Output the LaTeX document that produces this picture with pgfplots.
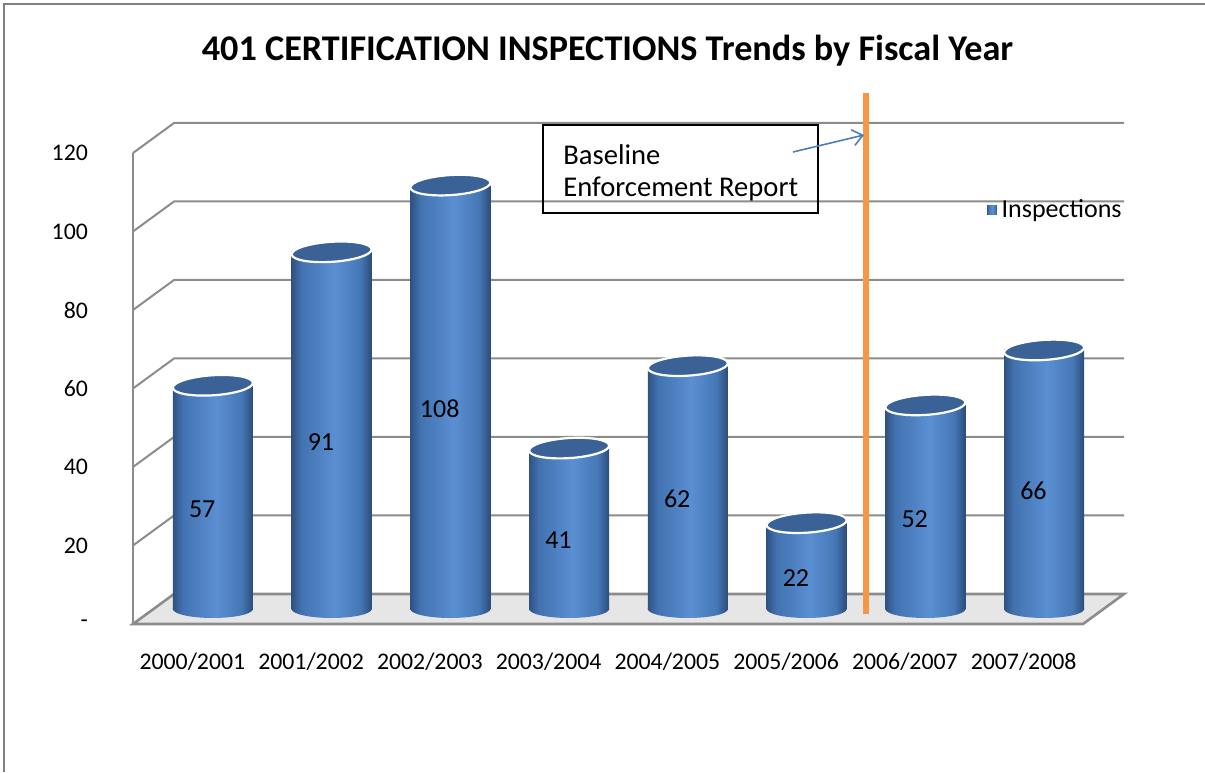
\documentclass[border=0pt]{standalone}
\usepackage{pgfplots}
\pgfplotsset{compat=1.18}
\usepackage{pgfplotstable}
\usepackage{fontspec}
\setmainfont{Carlito}
\usetikzlibrary{arrows.meta}

\definecolor{cA}{RGB}{48,82,130}
\definecolor{cB}{RGB}{66,114,176}
\definecolor{cC}{RGB}{90,143,210}
\definecolor{cD}{RGB}{69,119,181}
\definecolor{cE}{RGB}{44,76,122}
\definecolor{topblue}{RGB}{58,98,150}
\definecolor{legblue}{RGB}{79,129,189}
\definecolor{gridgray}{RGB}{140,140,140}
\definecolor{floorgray}{RGB}{230,230,230}
\definecolor{baseorange}{RGB}{247,150,70}
\definecolor{arrowblue}{RGB}{74,126,187}
\definecolor{framegray}{RGB}{128,128,128}

\pgfdeclarehorizontalshading{cyl}{100bp}{color(0bp)=(cA); color(25bp)=(cA); color(31bp)=(cB); color(52bp)=(cC); color(68bp)=(cD); color(75bp)=(cE); color(100bp)=(cE)}

\pgfdeclareplotmark{cyltop}{%
  \pgfpathellipse{\pgfpointorigin}{\pgfpoint{20pt}{1.3pt}}{\pgfpoint{-0.3pt}{5pt}}%
  \pgfusepathqfillstroke}
\pgfdeclareplotmark{cylbot}{%
  \pgfpathmoveto{\pgfpoint{-20pt}{0.5pt}}%
  \pgfpathlineto{\pgfpoint{-20pt}{0pt}}%
  \pgfpatharc{180}{360}{20pt and 4.5pt}%
  \pgfpathlineto{\pgfpoint{20pt}{0.5pt}}%
  \pgfpathclose
  \pgfshadepath{cyl}{0}%
  \pgfusepath{discard}}

\pgfplotstableread{
x v
0 57
1 91
2 108
3 41
4 62
5 22
6 52
7 66
}\datatable

\begin{document}
\begin{tikzpicture}
% frame
\draw[framegray, line width=1pt] (2pt,0pt) -- (2pt,383.75pt) -- (602.5pt,383.75pt);
% title
\node[font=\bfseries\fontsize{18.1}{21}\selectfont] at (303.75pt,360.5pt) {401 CERTIFICATION INSPECTIONS Trends by Fiscal Year};

% back wall: gridlines and floor
\begin{axis}[
  at={(87pt,89pt)}, anchor=south west,
  scale only axis, width=475pt, height=235.5pt,
  xmin=-0.5, xmax=7.5, ymin=0, ymax=120,
  axis line style={draw=none}, xtick=\empty, ytick=\empty,
  clip=false]
  \foreach \v in {20,40,...,120} {
    \edef\tmp{\noexpand\draw[gridgray, line width=1pt] ([shift={(-20.5pt,-15pt)}]axis cs:-0.5,\v) -- (axis cs:-0.5,\v) -- (axis cs:7.5,\v);}\tmp
  }
  \draw[gridgray, line width=1pt] ([shift={(-20.5pt,-15pt)}]axis cs:-0.5,0) -- ([shift={(-20.5pt,-15pt)}]axis cs:-0.5,120);
  \draw[fill=floorgray, draw=gridgray, line width=1.3pt] (axis cs:-0.5,0) -- (axis cs:7.5,0) -- ([shift={(-20.5pt,-15pt)}]axis cs:7.5,0) -- ([shift={(-20.5pt,-15pt)}]axis cs:-0.5,0) -- cycle;
\end{axis}

% front plane: tick labels
\begin{axis}[
  at={(66.5pt,74pt)}, anchor=south west,
  scale only axis, width=475pt, height=235.5pt,
  xmin=-0.5, xmax=7.5, ymin=0, ymax=120,
  axis line style={draw=none}, major tick length=0pt,
  xtick={0,...,7},
  xticklabels={2000/2001,2001/2002,2002/2003,2003/2004,2004/2005,2005/2006,2006/2007,2007/2008},
  ytick={0,20,...,120},
  yticklabels={-,20,40,60,80,100,120},
  /pgf/number format/assume math mode=true,
  ticklabel style={font=\fontsize{11.9}{14}\selectfont},
  xticklabel style={anchor=center, yshift=-19pt},
  yticklabel style={anchor=east, xshift=-19pt},
  clip=false]
\end{axis}

% bars (mid depth)
\begin{axis}[
  at={(76.75pt,81.5pt)}, anchor=south west,
  scale only axis, width=475pt, height=235.5pt,
  xmin=-0.5, xmax=7.5, ymin=0, ymax=120,
  axis line style={draw=none}, xtick=\empty, ytick=\empty,
  /pgf/number format/assume math mode=true,
  clip=false,
  legend style={at={(0.877,0.847)}, anchor=west, draw=none, fill=none,
    font=\fontsize{13}{15}\selectfont, inner sep=0pt,
    nodes={inner sep=2.5pt}},
  legend cell align=left]
  \addplot[ybar, bar width=40pt, draw=none, shading=cyl, shading angle=0,
    restrict x to domain=0:0,
    legend image code/.code={\fill[legblue] (0pt,-2.4pt) rectangle (4.8pt,2.4pt);}]
    table[x=x, y=v]{\datatable};
  \addlegendentry{Inspections}
  \pgfplotsinvokeforeach{1,...,7}{
    \addplot[ybar, bar width=40pt, draw=none, shading=cyl, shading angle=0,
      restrict x to domain=#1:#1, forget plot]
      table[x=x, y=v]{\datatable};
  }
  \addplot[only marks, mark=cylbot, forget plot] table[x=x, y expr=0]{\datatable};
  \addplot[only marks, mark=cyltop, mark options={fill=topblue, draw=white, line width=1.1pt}, forget plot]
    table[x=x, y=v]{\datatable};
  \addplot[draw=none, mark=none, forget plot, nodes near coords,
    point meta=explicit,
    every node near coord/.append style={anchor=center, font=\fontsize{13}{15}\selectfont, text=black}]
    table[x expr=\thisrow{x}-0.09, y expr=\thisrow{v}/2-3, meta=v]{\datatable};
\end{axis}

% baseline marker and annotation
\draw[baseorange, line width=3pt] (433pt,79pt) -- (433pt,339.5pt);
\draw[black, line width=1pt] (271.5pt,279.5pt) rectangle (409pt,323.5pt);
\node[anchor=west, inner sep=0pt, font=\fontsize{14.3}{17}\selectfont] at (281.5pt,308.5pt) {Baseline};
\node[anchor=west, inner sep=0pt, font=\fontsize{14.3}{17}\selectfont] at (281.5pt,291.5pt) {Enforcement Report};
\draw[arrowblue, line width=0.8pt, -{Straight Barb[length=5pt, width=8pt]}] (396.5pt,310pt) -- (432pt,318.5pt);

\pgfresetboundingbox
\path[use as bounding box] (0pt,0pt) rectangle (602.5pt,386pt);
\end{tikzpicture}
\end{document}
